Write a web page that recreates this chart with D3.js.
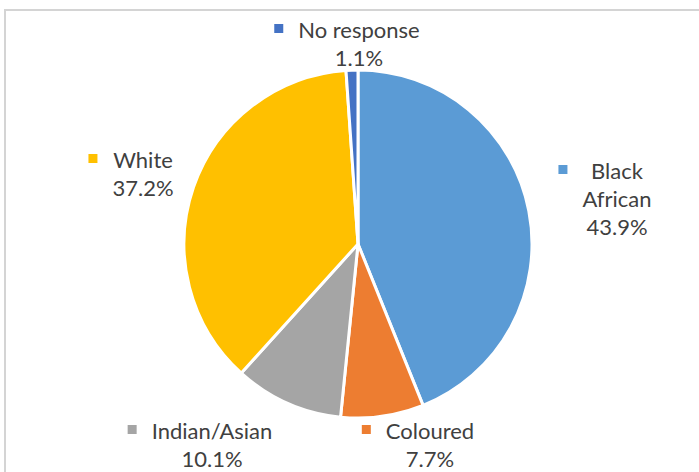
<!DOCTYPE html>
<html>
<head>
<meta charset="utf-8">
<script src="https://cdn.jsdelivr.net/npm/d3@7"></script>
<style>
  html, body { margin: 0; padding: 0; background: #ffffff; }
  svg { display: block; }
  text { font-family: Lato, "Open Sans", sans-serif; fill: #404040; }
</style>
</head>
<body>
<svg id="chart" width="699" height="472"></svg>
<script>
// ---- data ----
const categories = ["Black African", "Coloured", "Indian/Asian", "White", "No response"];
const values = [43.9, 7.7, 10.1, 37.2, 1.1];
const colors = ["#5B9BD5", "#ED7D31", "#A5A5A5", "#FFC000", "#4472C4"];
const labelLines = [["Black", "African"], ["Coloured"], ["Indian/Asian"], ["White"], ["No response"]];

// ---- layout ----
const W = 699, H = 472;
const cx = 358, cy = 244, R = 174;
const fontSize = 22, lineH = 28;
// label block centre x and first baseline y (text placement only)
const labelPos = [
  [617, 179],
  [430, 439],
  [212, 439],
  [143, 168],
  [359, 38]
];

const svg = d3.select("#chart");

// frame
svg.append("rect")
  .attr("x", 5).attr("y", 10)
  .attr("width", W + 20).attr("height", H + 20)
  .attr("fill", "none")
  .attr("stroke", "#d4d4d4")
  .attr("stroke-width", 2);

const pie = d3.pie().sort(null).value(d => d.v).startAngle(0).endAngle(2 * Math.PI);
const data = categories.map((c, i) => ({ c, v: values[i], color: colors[i], i }));
const arcs = pie(data);
const arc = d3.arc().innerRadius(0).outerRadius(R);

const g = svg.append("g").attr("transform", `translate(${cx},${cy})`);
g.selectAll("path")
  .data(arcs)
  .join("path")
  .attr("d", arc)
  .attr("fill", d => d.data.color)
  .attr("stroke", "#ffffff")
  .attr("stroke-width", 3)
  .attr("stroke-linejoin", "round");

const fmt = v => v.toFixed(1) + "%";

arcs.forEach((a, i) => {
  const [lx, ly] = labelPos[i];
  const lines = labelLines[i].concat([fmt(a.data.v)]);
  const lg = svg.append("g");
  const texts = lines.map((t, k) =>
    lg.append("text")
      .attr("x", lx)
      .attr("y", ly + k * lineH)
      .attr("text-anchor", "middle")
      .attr("font-size", fontSize)
      .text(t)
  );
  const maxW = d3.max(texts, t => t.node().getComputedTextLength());
  const left = lx - maxW / 2;
  lg.append("rect")
    .attr("x", left - 15 - 9)
    .attr("y", ly - 14)
    .attr("width", 9)
    .attr("height", 9)
    .attr("fill", a.data.color);
});
</script>
</body>
</html>
